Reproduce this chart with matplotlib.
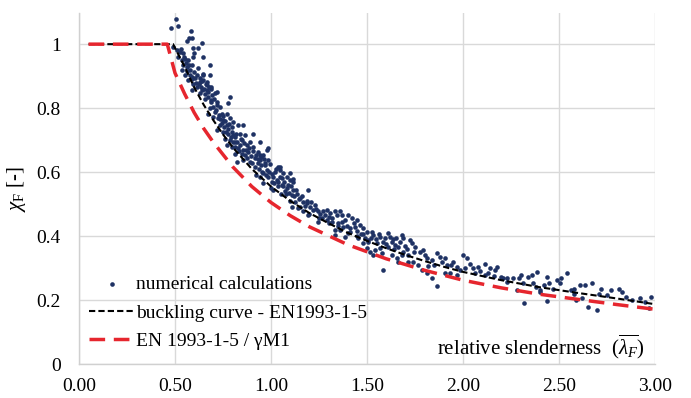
import matplotlib
matplotlib.use("Agg")
import matplotlib.pyplot as plt

plt.rcParams['font.family'] = ['Liberation Serif', 'DejaVu Serif']
plt.rcParams['mathtext.fontset'] = 'custom'
plt.rcParams['mathtext.rm'] = 'Liberation Serif'
plt.rcParams['mathtext.it'] = 'Liberation Serif:italic'

# buckling curve EN1993-1-5
black_lam = [0.05, 0.49, 0.52, 0.55, 0.60, 0.65, 0.70, 0.75, 0.80, 0.90, 1.00, 1.10,
             1.20, 1.30, 1.40, 1.50, 1.60, 1.70, 1.80, 1.90, 2.00, 2.20, 2.40, 2.60,
             2.80, 3.00]
black_chi = [1.00, 1.00, 0.965, 0.93, 0.865, 0.81, 0.762, 0.718, 0.678, 0.61, 0.555, 0.51,
             0.472, 0.44, 0.41, 0.385, 0.362, 0.341, 0.322, 0.304, 0.288, 0.262, 0.24, 0.222,
             0.205, 0.187]

# EN 1993-1-5 / gamma M1
red_lam = [0.05, 0.46, 0.50, 0.55, 0.60, 0.65, 0.70, 0.80, 0.90, 1.00, 1.10, 1.20, 1.40,
           1.60, 1.80, 2.00, 2.20, 2.40, 2.60, 2.80, 3.00]
red_chi = [1.00, 1.00, 0.91, 0.845, 0.786, 0.736, 0.693, 0.617, 0.555, 0.505, 0.464, 0.429, 0.373,
           0.329, 0.293, 0.262, 0.238, 0.218, 0.202, 0.186, 0.171]

# numerical calculations (scatter)
lam_num = [
    0.479, 0.503, 0.514, 0.490, 0.510, 0.526, 0.543, 0.517, 0.535, 0.552,
    0.561, 0.575, 0.587, 0.583, 0.639, 0.595, 0.621, 0.600, 0.595, 0.570,
    0.543, 0.561, 0.587, 0.578, 0.600, 0.621, 0.647, 0.630, 0.587, 0.570,
    0.595, 0.613, 0.665, 0.682, 0.647, 0.665, 0.690, 0.717, 0.786, 0.630,
    0.587, 0.552, 0.535,
    0.680, 0.647, 0.665, 0.690, 0.640, 0.673, 0.708, 0.656, 0.690, 0.717,
    0.778, 0.734, 0.680, 0.708, 0.743, 0.769, 0.673, 0.700, 0.725, 0.752,
    0.786, 0.804, 0.830, 0.795, 0.769, 0.734, 0.717, 0.752, 0.778, 0.804,
    0.838, 0.865, 0.847, 0.812, 0.786, 0.760, 0.769, 0.795, 0.830, 0.873,
    0.890, 0.908, 0.880, 0.847, 0.812, 0.934, 0.950, 0.978, 0.917, 0.890,
    0.934, 0.969, 1.047, 0.986, 0.856, 0.821, 0.647, 0.630,
    0.855, 0.908, 0.943, 0.986, 1.100, 1.116,
    0.960, 0.943, 0.950, 0.969, 0.978, 0.960, 0.943, 0.986, 1.038, 1.047,
    1.064, 1.020, 1.012, 1.004, 1.030, 1.056, 1.082, 1.100, 1.116, 1.090,
    1.064, 1.038, 1.012, 1.116, 1.134, 1.108, 1.080, 1.194, 1.150, 1.168,
    1.186, 1.203, 1.230, 1.220, 1.125, 1.108, 1.142, 1.168, 1.194, 1.246,
    1.272, 1.290, 1.307, 1.333, 1.360, 1.368, 1.316, 1.290, 1.264, 1.246,
    1.385, 1.400, 1.420, 1.446, 1.464, 1.480, 1.437, 1.410, 1.377, 1.360,
    1.333, 1.500, 1.333, 1.385, 1.455, 1.507, 1.410,
    1.480, 1.525, 1.533, 1.570, 1.594, 1.620, 1.637, 1.680, 1.690, 1.724,
    1.733, 1.670, 1.646, 1.610, 1.568, 1.540, 1.516, 1.500, 1.480, 1.507,
    1.550, 1.585, 1.628, 1.663, 1.690, 1.715, 1.680, 1.655, 1.630, 1.663,
    1.715, 1.740, 1.585, 1.577, 1.533, 1.776, 1.790, 1.810, 1.837, 1.863,
    1.890, 1.906, 1.915, 1.950, 1.967, 2.000, 2.020, 2.036, 2.054, 2.080,
    2.115, 2.140, 2.167, 2.175, 1.985, 1.930, 1.837, 1.863, 1.810, 1.906,
    1.967, 2.060, 2.115, 2.210, 2.227, 1.767, 1.785,
    2.540, 2.384, 2.436, 2.320, 2.440, 2.700, 2.650, 2.980, 2.920, 2.970,
    2.770, 2.810, 2.830, 2.720, 2.710, 2.670, 2.635, 2.610, 2.580, 2.580,
    2.565, 2.590, 2.620, 2.510, 2.490, 2.450, 2.420, 2.400, 2.360, 2.340,
    2.300, 2.290, 2.260, 2.230, 2.200, 2.310, 2.365, 2.280, 2.400, 2.380,
    2.505, 2.470,
    0.920, 0.960, 1.000, 1.050, 1.100, 1.150, 1.200, 1.250, 1.300, 1.350,
    1.400, 1.450, 2.750, 2.850, 2.880, 2.950,
    0.530, 0.545, 0.555, 0.565, 0.575, 0.580, 0.590, 0.605, 0.610, 0.615,
    0.625, 0.635, 0.640, 0.650, 0.655, 0.660, 0.670, 0.675, 0.685, 0.695,
    0.700, 0.705, 0.715, 0.720, 0.730, 0.735, 0.745, 0.750, 0.755, 0.760,
    0.765, 0.775, 0.780, 0.790, 0.795, 0.800, 0.810, 0.815, 0.820, 0.825,
    0.835, 0.840, 0.845, 0.855, 0.860, 0.865, 0.870, 0.875, 0.885, 0.895,
    0.900, 0.905, 0.915, 0.920, 0.930, 0.935, 0.945, 0.955, 0.965, 0.975,
    0.990, 0.995, 1.005, 1.015, 1.025, 1.035, 1.045, 1.055, 1.070, 1.075,
    1.085, 1.095, 1.105, 1.120, 1.130, 1.145, 1.160, 1.175, 1.190, 1.210,
    1.235, 1.255, 1.280, 1.300, 1.320, 1.345, 1.350, 1.370, 1.395, 1.430,
    1.450, 1.470, 1.490, 1.520, 1.545, 1.560, 1.600, 1.610, 1.640, 1.650,
    1.700, 1.710, 1.745, 1.750, 1.800, 1.820, 1.850, 1.880, 1.940, 2.010,
    2.090, 2.130, 2.160,
]
chi_num = [
    1.049, 1.080, 1.057, 0.990, 0.983, 0.976, 0.971, 0.960, 0.950, 0.955,
    1.010, 1.020, 1.018, 1.042, 1.005, 0.989, 0.987, 0.973, 0.960, 0.950,
    0.934, 0.929, 0.934, 0.919, 0.914, 0.924, 0.903, 0.893, 0.898, 0.888,
    0.877, 0.867, 0.883, 0.934, 0.960, 0.856, 0.861, 0.851, 0.835, 0.846,
    0.856, 0.903, 0.919,
    0.903, 0.888, 0.872, 0.867, 0.856, 0.851, 0.846, 0.830, 0.820, 0.820,
    0.815, 0.804, 0.799, 0.789, 0.783, 0.783, 0.783, 0.773, 0.768, 0.763,
    0.768, 0.757, 0.747, 0.742, 0.747, 0.747, 0.731, 0.726, 0.720, 0.716,
    0.720, 0.716, 0.700, 0.695, 0.700, 0.705, 0.684, 0.679, 0.674, 0.684,
    0.695, 0.679, 0.663, 0.658, 0.658, 0.663, 0.648, 0.669, 0.643, 0.633,
    0.627, 0.622, 0.617, 0.638, 0.638, 0.633, 0.908, 0.883,
    0.747, 0.720, 0.695, 0.674, 0.596, 0.570,
    0.653, 0.638, 0.622, 0.627, 0.606, 0.596, 0.585, 0.585, 0.617, 0.606,
    0.596, 0.600, 0.585, 0.570, 0.575, 0.580, 0.585, 0.575, 0.577, 0.560,
    0.555, 0.555, 0.544, 0.544, 0.533, 0.528, 0.533, 0.544, 0.518, 0.507,
    0.502, 0.492, 0.497, 0.480, 0.507, 0.492, 0.487, 0.477, 0.466, 0.477,
    0.477, 0.480, 0.471, 0.477, 0.477, 0.466, 0.455, 0.450, 0.455, 0.445,
    0.450, 0.466, 0.455, 0.450, 0.434, 0.424, 0.429, 0.424, 0.429, 0.419,
    0.419, 0.414, 0.403, 0.398, 0.393, 0.388, 0.414,
    0.408, 0.413, 0.403, 0.398, 0.393, 0.398, 0.390, 0.403, 0.393, 0.388,
    0.377, 0.382, 0.372, 0.367, 0.362, 0.356, 0.351, 0.362, 0.377, 0.382,
    0.377, 0.382, 0.382, 0.367, 0.351, 0.340, 0.340, 0.330, 0.340, 0.320,
    0.320, 0.320, 0.294, 0.346, 0.340, 0.351, 0.356, 0.330, 0.325, 0.346,
    0.320, 0.330, 0.309, 0.320, 0.304, 0.340, 0.330, 0.314, 0.299, 0.304,
    0.314, 0.299, 0.294, 0.304, 0.294, 0.283, 0.268, 0.245, 0.283, 0.283,
    0.278, 0.283, 0.278, 0.268, 0.257, 0.309, 0.294,
    0.283, 0.289, 0.273, 0.190, 0.198, 0.169, 0.179, 0.210, 0.205, 0.175,
    0.231, 0.234, 0.226, 0.236, 0.220, 0.252, 0.247, 0.247, 0.236, 0.220,
    0.231, 0.200, 0.205, 0.268, 0.263, 0.252, 0.247, 0.231, 0.278, 0.273,
    0.278, 0.268, 0.268, 0.268, 0.273, 0.252, 0.252, 0.231, 0.226, 0.242,
    0.252, 0.236,
    0.590, 0.565, 0.550, 0.530, 0.510, 0.490, 0.470, 0.455, 0.440, 0.430,
    0.410, 0.400, 0.215, 0.210, 0.200, 0.195,
    0.985, 0.960, 0.940, 0.915, 0.935, 0.905, 0.890, 0.895, 0.880, 0.905,
    0.875, 0.865, 0.885, 0.860, 0.845, 0.875, 0.835, 0.865, 0.825, 0.840,
    0.805, 0.830, 0.795, 0.810, 0.780, 0.765, 0.755, 0.775, 0.740, 0.760,
    0.725, 0.735, 0.750, 0.710, 0.725, 0.695, 0.710, 0.680, 0.720, 0.695,
    0.665, 0.685, 0.705, 0.670, 0.690, 0.655, 0.670, 0.645, 0.675, 0.650,
    0.630, 0.665, 0.615, 0.655, 0.640, 0.610, 0.655, 0.600, 0.640, 0.590,
    0.600, 0.625, 0.595, 0.565, 0.610, 0.570, 0.585, 0.560, 0.570, 0.540,
    0.550, 0.535, 0.555, 0.525, 0.545, 0.515, 0.525, 0.495, 0.510, 0.505,
    0.485, 0.470, 0.465, 0.460, 0.445, 0.465, 0.440, 0.445, 0.430, 0.440,
    0.415, 0.405, 0.395, 0.395, 0.390, 0.405, 0.375, 0.410, 0.360, 0.395,
    0.370, 0.360, 0.350, 0.365, 0.340, 0.305, 0.310, 0.335, 0.310, 0.300,
    0.290, 0.285, 0.275,
]

x_ticks = [0.0, 0.5, 1.0, 1.5, 2.0, 2.5, 3.0]
x_ticklabels = ['0.00', '0.50', '1.00', '1.50', '2.00', '2.50', '3.00']
y_ticks = [0, 0.2, 0.4, 0.6, 0.8, 1.0]
y_ticklabels = ['0', '0.2', '0.4', '0.6', '0.8', '1']

fig = plt.figure(figsize=(6.91, 3.98), dpi=100)
ax = fig.add_axes([0.1143, 0.0854, 0.8336, 0.8816])

ax.scatter(lam_num, chi_num, s=11, color='#1f3264', linewidths=0,
           label='numerical calculations', zorder=3)
ax.plot(black_lam, black_chi, color='black', lw=1.5, dashes=(3, 1.5),
        label='buckling curve - EN1993-1-5', zorder=4)
ax.plot(red_lam, red_chi, color='#e6262e', lw=2.5, dashes=(4.5, 2.5),
        label='EN 1993-1-5 / γM1', zorder=5)

ax.set_xlim(0, 3.0)
ax.set_ylim(0, 1.097)
ax.set_xticks(x_ticks)
ax.set_xticklabels(x_ticklabels)
ax.set_yticks(y_ticks)
ax.set_yticklabels(y_ticklabels)
ax.tick_params(axis='both', length=0, labelsize=14)
ax.tick_params(axis='y', pad=13)
ax.tick_params(axis='x', pad=10)

ax.grid(True, color='#d9d9d9', lw=1.0)
ax.set_axisbelow(True)
for s in ['top', 'right']:
    ax.spines[s].set_visible(False)
for s in ['left', 'bottom']:
    ax.spines[s].set_color('#d0d0d0')
    ax.spines[s].set_linewidth(1.0)

ax.set_ylabel(r'$\chi_{\mathrm{F}}$ [-]', fontsize=15, labelpad=6)

ax.text(0.983, 0.048, r'relative slenderness  $(\overline{\lambda_F})$',
        transform=ax.transAxes, ha='right', va='center', fontsize=15)

ax.legend(loc='lower left', bbox_to_anchor=(0.017, 0.04), frameon=False,
          fontsize=14, handlelength=2.35, handletextpad=0.1, labelspacing=0.55,
          borderaxespad=0, borderpad=0, markerscale=1.0)

fig.savefig('out.png', dpi=100)
